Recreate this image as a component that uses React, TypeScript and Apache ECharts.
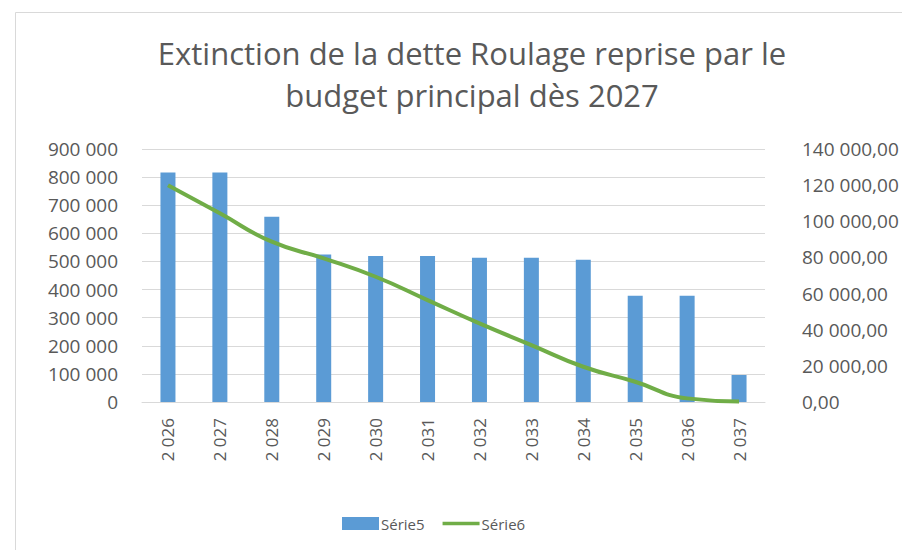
import React, { useEffect, useRef } from "react";
import * as echarts from "echarts";

const categories = ["2 026", "2 027", "2 028", "2 029", "2 030", "2 031", "2 032", "2 033", "2 034", "2 035", "2 036", "2 037"];
const serie5 = [816000, 816000, 659000, 525000, 519000, 519000, 513000, 513000, 506000, 378000, 378000, 96000];
const serie6 = [120000, 104400, 88700, 79500, 69300, 56400, 43500, 31500, 19500, 11200, 2000, 300];
const titleLines = ["Extinction de la dette Roulage reprise par le", "budget principal dès 2027"];

const FONT = "'Open Sans', 'Liberation Sans', sans-serif";
const GREY = "#595959";

function fmtInt(v: number): string {
  return String(Math.round(v)).replace(/\B(?=(\d{3})+(?!\d))/g, " ");
}
function fmtDec(v: number): string {
  return fmtInt(v) + ",00";
}

export default function App() {
  const ref = useRef<HTMLDivElement>(null);
  useEffect(() => {
    if (!ref.current) return;
    const chart = echarts.init(ref.current, undefined, { renderer: "svg" });
    chart.setOption({
      animation: false,
      backgroundColor: "#ffffff",
      textStyle: { fontFamily: FONT },
      title: {
        text: titleLines.join("\n"),
        left: 467,
        textAlign: "center",
        top: 27,
        textStyle: { fontFamily: FONT, fontSize: 31, fontWeight: "normal", color: GREY, lineHeight: 42 },
      },
      graphic: [
        {
          type: "rect",
          shape: { x: 15.5, y: 12.5, width: 900, height: 560 },
          style: { fill: "none", stroke: "#D9D9D9", lineWidth: 1 },
          silent: true,
        },
      ],
      legend: {
        left: 337,
        top: 511,
        itemGap: 18,
        itemWidth: 37,
        itemHeight: 13,
        textStyle: { fontFamily: FONT, fontSize: 15, color: GREY, padding: [0, 0, 0, -3] },
        data: [
          { name: "Série5", icon: "rect" },
          { name: "Série6", icon: "path://M0 0 L40 0 L40 4 L0 4 Z", itemStyle: { color: "#70AD47" } },
        ],
      },
      grid: { left: 142, right: 137, top: 149, bottom: 148, containLabel: false },
      xAxis: {
        type: "category",
        data: categories,
        boundaryGap: true,
        axisLine: { lineStyle: { color: "#D9D9D9", width: 1 } },
        axisTick: { show: false },
        axisLabel: { rotate: 90, fontFamily: FONT, fontSize: 17, color: GREY, margin: 16 },
      },
      yAxis: [
        {
          type: "value",
          min: 0,
          max: 900000,
          interval: 100000,
          axisLine: { show: false },
          axisTick: { show: false },
          splitLine: { lineStyle: { color: "#D9D9D9", width: 1 } },
          axisLabel: { fontFamily: FONT, fontSize: 19, color: GREY, margin: 24, formatter: (v: number) => fmtInt(v) },
        },
        {
          type: "value",
          min: 0,
          max: 140000,
          interval: 20000,
          axisLine: { show: false },
          axisTick: { show: false },
          splitLine: { show: false },
          axisLabel: { fontFamily: FONT, fontSize: 19, color: GREY, margin: 37, formatter: (v: number) => fmtDec(v) },
        },
      ],
      series: [
        {
          name: "Série5",
          type: "bar",
          data: serie5,
          yAxisIndex: 0,
          barWidth: 15,
          itemStyle: { color: "#5B9BD5" },
        },
        {
          name: "Série6",
          type: "line",
          data: serie6,
          yAxisIndex: 1,
          smooth: true,
          symbol: "none",
          lineStyle: { color: "#70AD47", width: 4 },
          itemStyle: { color: "#70AD47" },
        },
      ],
    });
    return () => chart.dispose();
  }, []);
  return <div ref={ref} style={{ position: "fixed", left: 0, top: 0, width: 902, height: 550 }} />;
}
